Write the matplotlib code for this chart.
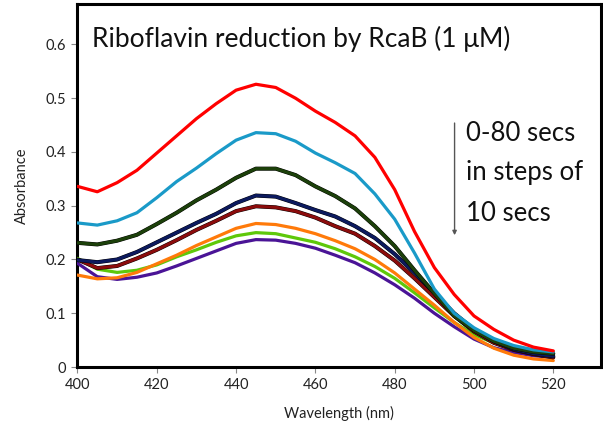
import matplotlib
matplotlib.use('Agg')
import matplotlib.pyplot as plt
import matplotlib.patheffects as pe

plt.rcParams['font.family'] = ['Lato', 'DejaVu Sans']

# wavelength grid (nm)
wl = [400, 405, 410, 415, 420, 425, 430, 435, 440, 445, 450, 455, 460,
      465, 470, 475, 480, 485, 490, 495, 500, 505, 510, 515, 520]

# absorbance, 0 s -> 80 s
t0 = [0.336, 0.326, 0.343, 0.366, 0.398, 0.430, 0.462, 0.490, 0.515, 0.526, 0.520, 0.500, 0.476,
      0.455, 0.430, 0.390, 0.330, 0.252, 0.185, 0.135, 0.095, 0.070, 0.050, 0.037, 0.030]
t1 = [0.268, 0.264, 0.272, 0.287, 0.315, 0.345, 0.370, 0.397, 0.422, 0.436, 0.434, 0.420, 0.398,
      0.380, 0.360, 0.322, 0.275, 0.212, 0.145, 0.100, 0.073, 0.053, 0.040, 0.032, 0.028]
t2 = [0.231, 0.228, 0.235, 0.246, 0.266, 0.287, 0.310, 0.330, 0.352, 0.369, 0.369, 0.357, 0.336,
      0.318, 0.295, 0.262, 0.225, 0.180, 0.137, 0.095, 0.068, 0.048, 0.035, 0.028, 0.025]
t3 = [0.199, 0.195, 0.200, 0.214, 0.232, 0.250, 0.268, 0.285, 0.305, 0.319, 0.317, 0.305, 0.292,
      0.280, 0.262, 0.240, 0.210, 0.175, 0.138, 0.100, 0.070, 0.048, 0.033, 0.025, 0.020]
t4 = [0.200, 0.184, 0.188, 0.202, 0.218, 0.236, 0.255, 0.272, 0.290, 0.299, 0.297, 0.290, 0.278,
      0.262, 0.248, 0.225, 0.198, 0.165, 0.130, 0.095, 0.066, 0.045, 0.032, 0.024, 0.018]
t5 = [0.171, 0.164, 0.166, 0.176, 0.192, 0.208, 0.226, 0.242, 0.258, 0.267, 0.265, 0.258, 0.248,
      0.235, 0.220, 0.200, 0.175, 0.145, 0.115, 0.083, 0.055, 0.035, 0.022, 0.015, 0.012]
t6 = [0.202, 0.182, 0.176, 0.180, 0.190, 0.205, 0.218, 0.232, 0.244, 0.250, 0.248, 0.240, 0.232,
      0.220, 0.205, 0.187, 0.165, 0.138, 0.110, 0.083, 0.060, 0.045, 0.035, 0.028, 0.025]
t7 = [0.193, 0.168, 0.163, 0.167, 0.175, 0.188, 0.202, 0.216, 0.230, 0.237, 0.236, 0.230, 0.221,
      0.208, 0.194, 0.175, 0.153, 0.128, 0.100, 0.075, 0.052, 0.036, 0.027, 0.021, 0.018]

series = [t0, t1, t2, t3, t4, t5, t6, t7]
colors = ['#ff0000', '#1a9ac8', '#1c400a', '#0c1a5e', '#8b0c0c', '#ff7a0a', '#5ec80a', '#4a1496']

fig = plt.figure(figsize=(6.03, 4.33), dpi=100)
ax = fig.add_axes([0.1285, 0.1524, 0.868, 0.838])

for i, (y, c) in enumerate(zip(series, colors)):
    kw = {}
    if c in ('#8b0c0c', '#1c400a', '#0c1a5e'):
        kw['path_effects'] = [pe.Stroke(linewidth=2.9, foreground='black'), pe.Normal()]
    ax.plot(wl, y, color=c, lw=2.3, zorder=10 - i, solid_joinstyle='round',
            solid_capstyle='round', **kw)

ax.set_xlim(400, 532)
ax.set_ylim(0, 0.675)
ax.set_xticks([400, 420, 440, 460, 480, 500, 520])
ax.set_yticks([0, 0.1, 0.2, 0.3, 0.4, 0.5, 0.6])
ax.set_yticklabels(['0', '0.1', '0.2', '0.3', '0.4', '0.5', '0.6'])
ax.tick_params(direction='out', length=4, width=0.8, color='#888888',
               labelsize=10.5, labelcolor='#222222', pad=4)
for s in ax.spines.values():
    s.set_linewidth(2.2)
    s.set_color('black')

ax.set_xlabel('Wavelength (nm)', fontsize=10.5, color='#222222', labelpad=10)
ax.set_ylabel('Absorbance', fontsize=10.5, color='#222222', labelpad=12)

ax.text(403.7, 0.611, 'Riboflavin reduction by RcaB (1 μM)', fontsize=19,
        va='center', ha='left', color='#111111')

ax.annotate('', xy=(495.1, 0.240), xytext=(495.1, 0.459),
            arrowprops=dict(arrowstyle='-|>', color='#555555', lw=1, mutation_scale=6))
for txt, yy in zip(['0-80 secs', 'in steps of', '10 secs'], [0.435, 0.361, 0.286]):
    ax.text(497.9, yy, txt, fontsize=18.5, va='center', ha='left', color='#111111')

fig.savefig('out.png', dpi=100)
